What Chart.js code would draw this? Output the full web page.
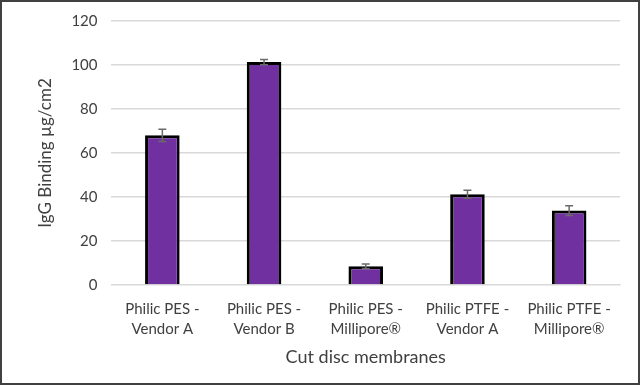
<!DOCTYPE html>
<html>
<head>
<meta charset="utf-8">
<script src="https://cdn.jsdelivr.net/npm/chart.js@4"></script>
<style>
  html, body { margin: 0; padding: 0; background: #fff; }
  #wrap { width: 640px; height: 385px; box-sizing: border-box; border: 2px solid #404040; position: relative; overflow: hidden; }
  #inner { position: absolute; left: 0; top: -4px; width: 636px; height: 385px; }
</style>
</head>
<body>
<div id="wrap"><div id="inner"><canvas id="myChart"></canvas></div></div>
<script>
const categories = [
  ['Philic PES -', 'Vendor A'],
  ['Philic PES -', 'Vendor B'],
  ['Philic PES -', 'Millipore®'],
  ['Philic PTFE -', 'Vendor A'],
  ['Philic PTFE -', 'Millipore®']
];
const binding = [68, 101.3, 8.5, 41.2, 33.8];
const errors = [2.8, 1.2, 1.0, 1.8, 2.2];

// draws the error bars from the y scale
const errorBars = {
  id: 'errorBars',
  afterDatasetsDraw(chart) {
    const c = chart.ctx;
    const y = chart.scales.y;
    const meta = chart.getDatasetMeta(0);
    c.save();
    c.strokeStyle = '#6b6b6b';
    c.lineWidth = 1.5;
    meta.data.forEach((bar, i) => {
      const top = y.getPixelForValue(binding[i] + errors[i]);
      const bot = y.getPixelForValue(binding[i] - errors[i]);
      c.beginPath();
      c.moveTo(bar.x, top); c.lineTo(bar.x, bot);
      c.moveTo(bar.x - 4, top); c.lineTo(bar.x + 4, top);
      c.moveTo(bar.x - 4, bot); c.lineTo(bar.x + 4, bot);
      c.stroke();
    });
    c.restore();
  }
};

const ctx = document.getElementById('myChart');

new Chart(ctx, {
  type: 'bar',
  data: {
    labels: categories,
    datasets: [{
      label: 'IgG Binding',
      data: binding,
      backgroundColor: '#7030a0',
      borderColor: '#000000',
      borderWidth: 3,
      barPercentage: 0.34,
      categoryPercentage: 1.0
    }]
  },
  options: {
    responsive: true,
    maintainAspectRatio: false,
    animation: false,
    layout: { padding: { top: 0, right: 18, left: 33, bottom: 11 } },
    plugins: {
      legend: { display: false },
      tooltip: { enabled: false }
    },
    scales: {
      x: {
        grid: { display: false },
        border: { color: '#d9d9d9' },
        ticks: { color: '#404040', font: { family: 'Lato', size: 15, lineHeight: 1.35 }, maxRotation: 0, padding: 6 },
        title: {
          display: true,
          text: 'Cut disc membranes',
          color: '#404040',
          font: { family: 'Lato', size: 18 },
          padding: { top: 1 }
        }
      },
      y: {
        min: 0,
        max: 120,
        ticks: { stepSize: 20, color: '#404040', font: { family: 'Lato', size: 15 }, padding: 14 },
        grid: { color: '#d9d9d9', lineWidth: 1.5, drawTicks: false },
        border: { display: false },
        title: {
          display: true,
          text: 'IgG Binding µg/cm2',
          color: '#404040',
          font: { family: 'Lato', size: 17 },
          padding: { top: 0, bottom: 2 }
        }
      }
    }
  },
  plugins: [errorBars]
});
</script>
</body>
</html>
